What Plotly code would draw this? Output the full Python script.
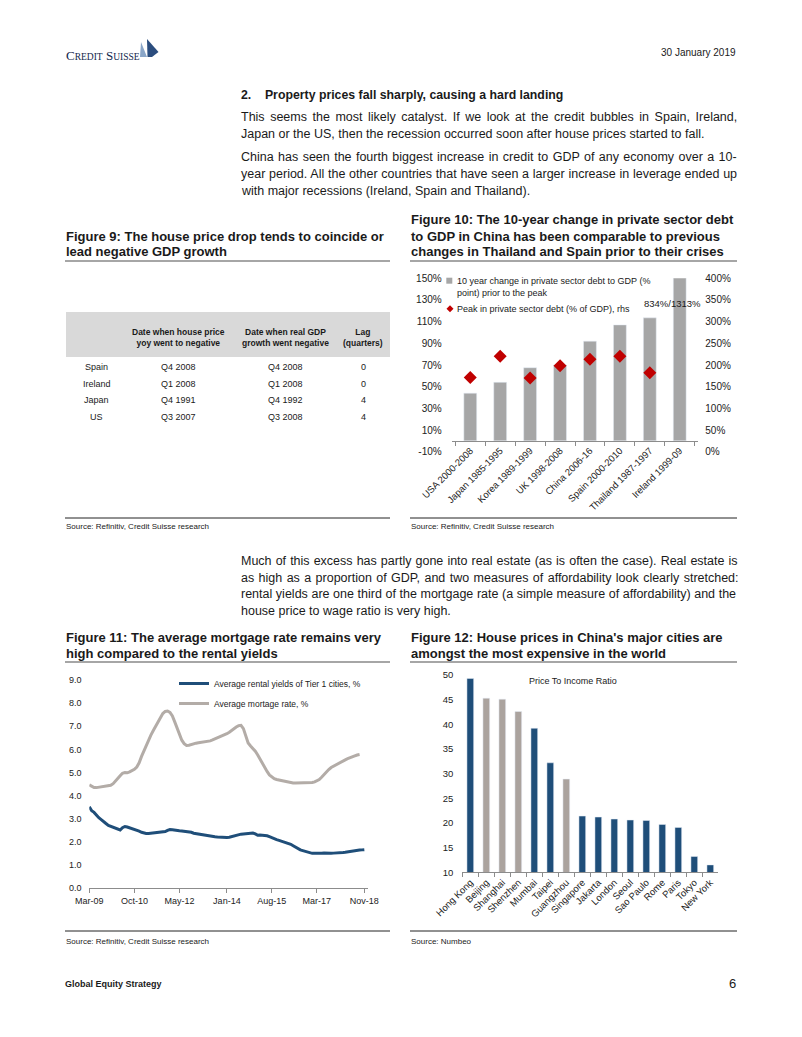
import plotly.graph_objects as go
import pandas as pd

# page is drawn inside the default 8px body margin of the html page
OFF = 8
W, H = 802 - 2 * OFF, 1037 - 2 * OFF
def X(p): return (p - OFF) / W
def Y(p): return 1 - (p - OFF) / H

PAGE_FONT = "Liberation Sans"
CHART_FONT = "Liberation Sans Narrow, Arial Narrow, Liberation Sans, Arial"
TXT = "#1a1a1a"

# ---------------- Figure 9 (table) ----------------
table_countries = ["Spain", "Ireland", "Japan", "US"]
house_price_neg = ["Q4 2008", "Q1 2008", "Q4 1991", "Q3 2007"]
gdp_neg = ["Q4 2008", "Q1 2008", "Q4 1992", "Q3 2008"]
lag_quarters = [0, 0, 4, 4]

# ---------------- Figure 10 ----------------
debt_periods = ["USA 2000-2008", "Japan 1985-1995", "Korea 1989-1999", "UK 1998-2008",
                "China 2006-16", "Spain 2000-2010", "Thailand 1987-1997", "Ireland 1999-09"]
debt_change_10y = [44, 54, 67.5, 70, 92, 107, 113.5, 834]
debt_peak = [171, 220, 170, 198, 213, 220, 182, 1313]
left_ticks = [-10, 10, 30, 50, 70, 90, 110, 130, 150]
right_ticks = [0, 50, 100, 150, 200, 250, 300, 350, 400]

# ---------------- Figure 11 ----------------
rental_yield = [3.52, 3.35, 3.28, 3.15, 3.05, 2.97, 2.90, 2.80, 2.72, 2.68,
                2.66, 2.62, 2.55, 2.52, 2.62, 2.67, 2.65, 2.62, 2.58, 2.53,
                2.50, 2.47, 2.42, 2.38, 2.37, 2.37, 2.38, 2.38, 2.39, 2.40,
                2.41, 2.43, 2.45, 2.50, 2.54, 2.53, 2.51, 2.50, 2.49, 2.48,
                2.47, 2.45, 2.44, 2.42, 2.38, 2.36, 2.34, 2.34, 2.33, 2.31,
                2.29, 2.27, 2.25, 2.23, 2.22, 2.21, 2.21, 2.20, 2.20, 2.21,
                2.24, 2.27, 2.30, 2.33, 2.34, 2.35, 2.36, 2.36, 2.38, 2.39,
                2.35, 2.29, 2.30, 2.29, 2.29, 2.27, 2.23, 2.18, 2.14, 2.10,
                2.07, 2.04, 2.01, 1.98, 1.94, 1.90, 1.84, 1.77, 1.71, 1.66,
                1.63, 1.60, 1.57, 1.53, 1.51, 1.51, 1.52, 1.51, 1.51, 1.52,
                1.51, 1.50, 1.51, 1.52, 1.52, 1.53, 1.54, 1.55, 1.56, 1.58,
                1.60, 1.62, 1.63, 1.64, 1.65, 1.66, 1.67]
mortgage_rate = [4.47, 4.40, 4.35, 4.35, 4.37, 4.38, 4.39, 4.40, 4.42, 4.45,
                 4.52, 4.62, 4.74, 4.86, 4.97, 5.00, 4.99, 5.03, 5.08, 5.14,
                 5.24, 5.42, 5.70, 5.95, 6.18, 6.42, 6.62, 6.82, 7.00, 7.20,
                 7.40, 7.55, 7.64, 7.66, 7.60, 7.45, 7.20, 6.90, 6.62, 6.40,
                 6.25, 6.17, 6.18, 6.22, 6.25, 6.27, 6.29, 6.30, 6.31, 6.32,
                 6.34, 6.37, 6.41, 6.45, 6.50, 6.55, 6.60, 6.64, 6.68, 6.74,
                 6.82, 6.90, 6.97, 7.03, 7.04, 6.90, 6.55, 6.28, 6.15, 6.05,
                 5.92, 5.76, 5.58, 5.40, 5.22, 5.05, 4.90, 4.80, 4.74, 4.70,
                 4.68, 4.66, 4.62, 4.59, 4.57, 4.56, 4.55, 4.55, 4.55, 4.55,
                 4.55, 4.55, 4.56, 4.56, 4.57, 4.60, 4.64, 4.70, 4.80, 4.92,
                 5.03, 5.13, 5.22, 5.28, 5.34, 5.40, 5.45, 5.50, 5.55, 5.60,
                 5.65, 5.69, 5.72, 5.76, 5.78]
rental_months = pd.date_range("2009-03-01", periods=len(rental_yield), freq="MS")
mortgage_months = pd.date_range("2009-03-01", periods=len(mortgage_rate), freq="MS")
fig11_tickdates = ["2009-03-01", "2010-10-01", "2012-05-01", "2014-01-01",
                   "2015-08-01", "2017-03-01", "2018-11-01"]
fig11_ticklabels = ["Mar-09", "Oct-10", "May-12", "Jan-14", "Aug-15", "Mar-17", "Nov-18"]

# ---------------- Figure 12 ----------------
cities = ["Hong Kong", "Beijing", "Shanghai", "Shenzhen", "Mumbai", "Taipei", "Guangzhou",
          "Singapore", "Jakarta", "London", "Seoul", "Sao Paulo", "Rome", "Paris", "Tokyo", "New York"]
price_to_income = [49.3, 45.3, 45.1, 42.6, 39.2, 32.2, 28.9, 21.4, 21.2, 20.8, 20.6, 20.5,
                   19.7, 19.1, 13.2, 11.5]
china_cities = ["Beijing", "Shanghai", "Shenzhen", "Guangzhou"]

BLUE = "#1f4e79"
WARMGRAY = "#aba39e"
GRAY = "#a6a6a6"
RED = "#c00000"

fig = go.Figure()

# Figure 10 traces
fig.add_trace(go.Bar(
    x=debt_periods, y=debt_change_10y, width=0.43, marker_color=GRAY,
    name="10 year change in private sector debt to GDP (% point) prior to the peak",
    showlegend=False, xaxis="x", yaxis="y"))
fig.add_trace(go.Scatter(
    x=debt_periods, y=debt_peak, mode="markers",
    marker=dict(symbol="diamond", size=10, color=RED),
    name="Peak in private sector debt (% of GDP), rhs",
    showlegend=False, xaxis="x", yaxis="y2"))

# Figure 11 traces
fig.add_trace(go.Scatter(
    x=rental_months, y=rental_yield, mode="lines", line=dict(color=BLUE, width=3),
    name="Average rental yields of Tier 1 cities, %",
    xaxis="x2", yaxis="y3", legend="legend", legendgroup="c"))
fig.add_trace(go.Scatter(
    x=mortgage_months, y=mortgage_rate, mode="lines", line=dict(color="#b3aca7", width=3),
    name="Average mortage rate, %",
    xaxis="x2", yaxis="y3", legend="legend", legendgroup="d"))

# Figure 12 trace
fig.add_trace(go.Bar(
    x=cities, y=price_to_income, width=0.42,
    marker_color=[WARMGRAY if c in china_cities else BLUE for c in cities],
    name="Price To Income Ratio", showlegend=False, xaxis="x3", yaxis="y4"))

def tf(size):
    return dict(family=CHART_FONT, size=size, color="#222")
axline = "#8c8c8c"

layout = dict(
    width=W, height=H, margin=dict(l=0, r=0, t=0, b=0, autoexpand=False),
    paper_bgcolor="white", plot_bgcolor="rgba(0,0,0,0)",
    font=dict(family=PAGE_FONT, color=TXT),
    showlegend=True,
    # Figure 10 axes
    xaxis=dict(domain=[X(451.7), X(698.3)], anchor="free", position=Y(440.5),
               type="category", tickson="boundaries", ticks="outside", ticklen=4,
               tickcolor=axline, showline=True, linecolor=axline, linewidth=1,
               tickangle=-45, tickfont=tf(9.5), showgrid=False, automargin=False),
    yaxis=dict(domain=[Y(451.7), Y(278.3)], range=[-10, 150],
               tickmode="array", tickvals=left_ticks, ticktext=["%d%%" % v for v in left_ticks],
               showgrid=False, zeroline=False, showline=False, automargin=False,
               ticks="outside", ticklen=7, tickcolor="rgba(0,0,0,0)", tickfont=tf(10)),
    yaxis2=dict(overlaying="y", side="right", anchor="free", position=X(698.3),
                range=[0, 400], tickmode="array", tickvals=right_ticks,
                ticktext=["%d%%" % v for v in right_ticks],
                showgrid=False, zeroline=False, showline=False, automargin=False,
                ticks="outside", ticklen=4, tickcolor="rgba(0,0,0,0)", tickfont=tf(10)),
    # Figure 11 axes
    xaxis2=dict(domain=[X(89.3), X(368.3)], anchor="y3", type="date",
                range=["2009-03-01", "2018-12-22"],
                tickmode="array", tickvals=fig11_tickdates, ticktext=fig11_ticklabels,
                ticks="outside", ticklen=4, tickcolor=axline, showline=True,
                linecolor=axline, showgrid=False, tickfont=tf(9), automargin=False),
    yaxis3=dict(domain=[Y(888.3), Y(680)], anchor="x2", range=[0, 9], dtick=1,
                tickformat=".1f", showgrid=False, zeroline=False, showline=False,
                ticks="outside", ticklen=5, tickcolor="rgba(0,0,0,0)", tickfont=tf(9),
                automargin=False),
    # Figure 12 axes
    xaxis3=dict(domain=[X(462.3), X(718.3)], anchor="y4", type="category",
                tickson="boundaries", ticks="outside", ticklen=4, tickcolor=axline,
                showline=True, linecolor=axline, tickangle=-45, tickfont=tf(9.5),
                showgrid=False, automargin=False),
    yaxis4=dict(domain=[Y(872.3), Y(675)], anchor="x3", range=[10, 50], dtick=5,
                showgrid=False, zeroline=False, showline=False,
                ticks="outside", ticklen=6, tickcolor="rgba(0,0,0,0)", tickfont=tf(9.5),
                automargin=False),
    legend=dict(x=X(174), y=Y(669), xanchor="left", yanchor="top",
                bgcolor="rgba(0,0,0,0)", font=tf(8.5),
                itemwidth=30, tracegroupgap=1),
)
fig.update_layout(**layout)

ann = []
def txt(x, y, s, size=12, bold=False, anchor="left", color=TXT, family=PAGE_FONT, wsp=None):
    if wsp:
        s = "<span style='word-spacing:%.2fpx'>%s</span>" % (wsp, s)
    if bold:
        s = "<b>" + s + "</b>"
    ann.append(dict(x=X(x), y=Y(y), xref="paper", yref="paper", text=s, showarrow=False,
                    xanchor=anchor, yanchor="middle", borderpad=0,
                    align=anchor if anchor != "middle" else "center",
                    font=dict(size=size, color=color, family=family)))

BODY = 12.5
TITLE = 13

# Header
ann.append(dict(x=X(65), y=Y(55), xref="paper", yref="paper", showarrow=False,
                xanchor="left", yanchor="middle", borderpad=0,
                text="C<span style='font-size:9.5px'>REDIT</span> S<span style='font-size:9.5px'>UISSE</span>",
                font=dict(size=13, color="#12284c", family="Liberation Serif")))
txt(737, 52, "30 January 2019", 10, anchor="right")

# Section heading and paragraph 1 (justified lines get extra word spacing)
txt(240, 95, "2.&nbsp;&nbsp;&nbsp;&nbsp;Property prices fall sharply, causing a hard landing", 12.3, bold=True)
para1 = [
    (117, "This seems the most likely catalyst. If we look at the credit bubbles in Spain, Ireland,", 2.05),
    (134, "Japan or the US, then the recession occurred soon after house prices started to fall.", None),
    (157, "China has seen the fourth biggest increase in credit to GDP of any economy over a 10-", 0.94),
    (174, "year period. All the other countries that have seen a larger increase in leverage ended up", 0.27),
    (191, "with major recessions (Ireland, Spain and Thailand).", None),
]
for yy, s, ws in para1:
    txt(240, yy, s, BODY, wsp=ws)

# Figure titles 9 & 10
txt(65, 236, "Figure 9: The house price drop tends to coincide or", TITLE, bold=True)
txt(65, 252, "lead negative GDP growth", TITLE, bold=True)
txt(410, 219, "Figure 10: The 10-year change in private sector debt", TITLE, bold=True)
txt(410, 236, "to GDP in China has been comparable to previous", TITLE, bold=True)
txt(410, 252, "changes in Thailand and Spain prior to their crises", TITLE, bold=True)

# Table (Figure 9)
col_x = [96.7, 178.5, 285, 363]
txt(col_x[1], 338, "Date when house price<br>yoy went to negative", 8.5, bold=True, anchor="center", family=CHART_FONT)
txt(col_x[2], 338, "Date when real GDP<br>growth went negative", 8.5, bold=True, anchor="center", family=CHART_FONT)
txt(col_x[3], 338, "Lag<br>(quarters)", 8.5, bold=True, anchor="center", family=CHART_FONT)
row_y = [367, 383.5, 400, 416.5]
for i in range(len(table_countries)):
    txt(col_x[0], row_y[i], table_countries[i], 9, anchor="center", family=CHART_FONT)
    txt(col_x[1], row_y[i], house_price_neg[i], 9, anchor="center", family=CHART_FONT)
    txt(col_x[2], row_y[i], gdp_neg[i], 9, anchor="center", family=CHART_FONT)
    txt(col_x[3], row_y[i], str(lag_quarters[i]), 9, anchor="center", family=CHART_FONT)

# Figure 10 legend (drawn in text) and off-scale label
txt(456, 281, "10 year change in private sector debt to GDP (%", 9, family=CHART_FONT)
txt(456, 292.5, "point) prior to the peak", 9, family=CHART_FONT)
txt(456, 308.7, "Peak in private sector debt (% of GDP), rhs", 9, family=CHART_FONT)
txt(702, 303, "%d%%/%d%%" % (debt_change_10y[-1], debt_peak[-1]), 9.5, anchor="right", family=CHART_FONT)

# Sources
txt(65, 526, "Source: Refinitiv, Credit Suisse research", 8)
txt(410, 526, "Source: Refinitiv, Credit Suisse research", 8)

# Paragraph 2
para2 = [
    (561, "Much of this excess has partly gone into real estate (as is often the case). Real estate is", 0.6),
    (577.5, "as high as a proportion of GDP, and two measures of affordability look clearly stretched:", 0.93),
    (594, "rental yields are one third of the mortgage rate (a simple measure of affordability) and the", 0.13),
    (610.5, "house price to wage ratio is very high.", None),
]
for yy, s, ws in para2:
    txt(240, yy, s, BODY, wsp=ws)

# Figure titles 11 & 12
txt(65, 637, "Figure 11: The average mortgage rate remains very", TITLE, bold=True)
txt(65, 653, "high compared to the rental yields", TITLE, bold=True)
txt(410, 637, "Figure 12: House prices in China's major cities are", TITLE, bold=True)
txt(410, 653, "amongst the most expensive in the world", TITLE, bold=True)

# Figure 12 chart title
txt(573, 681, "Price To Income Ratio", 9, anchor="center", family=CHART_FONT)

txt(65, 941, "Source: Refinitiv, Credit Suisse research", 8)
txt(410, 941, "Source: Numbeo", 8)

# Footer
txt(64, 984, "Global Equity Strategy", 9, bold=True)
txt(737, 983, "6", 13, anchor="right")

fig.update_layout(annotations=ann)

shapes = []
def hline(x0, x1, y, color, w):
    shapes.append(dict(type="line", xref="paper", yref="paper", x0=X(x0), x1=X(x1),
                       y0=Y(y), y1=Y(y), line=dict(color=color, width=w)))
hline(65, 390, 261, "#a6a6a6", 2)
hline(410, 737, 261, "#a6a6a6", 2)
hline(65, 390, 518, "#222222", 1)
hline(410, 737, 518, "#222222", 1)
hline(65, 390, 662, "#a6a6a6", 2)
hline(410, 737, 662, "#a6a6a6", 2)
hline(65, 390, 931, "#222222", 1)
hline(410, 737, 931, "#222222", 1)
# table header background
shapes.append(dict(type="rect", xref="paper", yref="paper", x0=X(66), x1=X(390),
                   y0=Y(357), y1=Y(312), fillcolor="#d9d9d9", line=dict(width=0), layer="below"))

def path(pts):
    return "M " + " L ".join("%f,%f" % (X(a), Y(b)) for a, b in pts) + " Z"
# Figure 10 legend symbols
shapes.append(dict(type="rect", xref="paper", yref="paper", x0=X(446.3), x1=X(452.3),
                   y0=Y(283.7), y1=Y(277.7), fillcolor=GRAY, line=dict(width=0)))
shapes.append(dict(type="path", xref="paper", yref="paper",
                   path=path([(450, 305.2), (453.5, 308.7), (450, 312.2), (446.5, 308.7)]),
                   fillcolor=RED, line=dict(width=0)))
# logo sails
shapes.append(dict(type="path", xref="paper", yref="paper",
                   path=path([(147, 39), (158.5, 52), (152, 57), (147.5, 57)]),
                   fillcolor="#2b4d7e", line=dict(width=0)))
shapes.append(dict(type="path", xref="paper", yref="paper",
                   path=path([(141, 42), (147, 57), (140, 57)]),
                   fillcolor="#8aa6c8", line=dict(width=0)))
fig.update_layout(shapes=shapes)

fig.write_html("out.html")
